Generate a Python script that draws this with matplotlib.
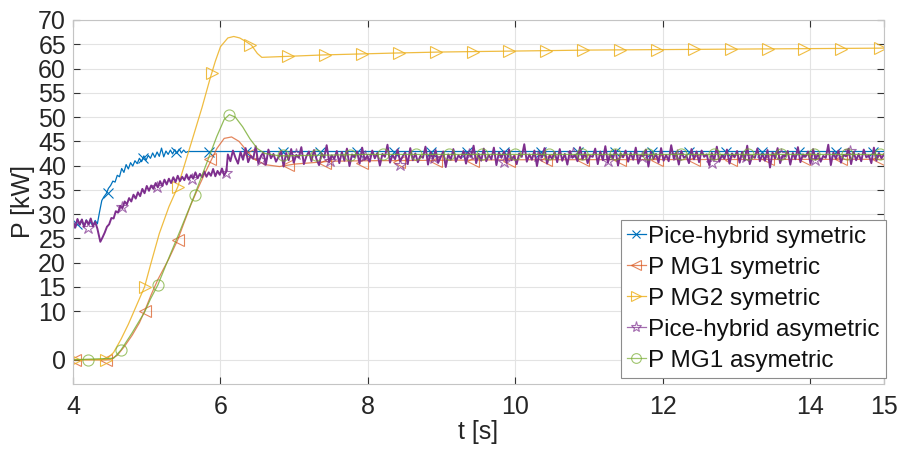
import numpy as np
import matplotlib
matplotlib.use('Agg')
import matplotlib.pyplot as plt
from matplotlib.lines import Line2D

plt.rcParams['font.family'] = ['Liberation Sans', 'DejaVu Sans']

#---------------------------------- data ----------------------------------
# Pice-hybrid symetric (blue): noisy start, rise, then flat
p_blue_start = [28.4, 27.6, 28.9, 27.8, 28.6, 27.5, 28.8, 27.9, 28.3, 27.6, 28.7, 28.0]   # 4.00 .. 4.33
p_blue_rise = [30.5, 32.8, 33.6, 34.2, 35.3, 35.9, 36.8, 36.6, 38.0, 37.7, 39.4, 38.6, 40.2,
               39.3, 40.6, 39.9, 41.0, 40.4, 41.5, 40.8, 42.0, 41.1, 42.1, 41.5, 42.6, 41.7,
               42.8, 41.9, 43.6, 41.8, 43.0, 42.3, 43.2, 42.4, 43.3, 42.5, 43.4, 42.6, 43.2,
               42.7, 42.9]                                                                  # 4.36 .. 5.56
p_blue_end = 42.9                                                                           # at 15 s
tm_blue = [4.05, 4.48, 4.95, 5.40, 5.85, 6.35, 6.85, 7.35, 7.85, 8.35, 8.85, 9.35, 9.85,
           10.35, 10.85, 11.35, 11.85, 12.35, 12.85, 13.35, 13.85, 14.35, 14.85]
pm_blue = [28.0, 34.4, 41.5, 42.7, 42.9, 42.9, 42.9, 42.9, 42.9, 42.9, 42.9, 42.9, 42.9,
           42.9, 42.9, 42.9, 42.9, 42.9, 42.9, 42.9, 42.9, 42.9, 42.9]

# P MG1 symetric (orange)
t_or = [4.0, 4.5, 4.6, 4.7, 4.8, 4.9, 4.97, 5.06, 5.15, 5.3, 5.42, 5.5, 5.6, 5.7, 5.8, 5.88,
        5.95, 6.05, 6.15, 6.25, 6.35, 6.45, 6.6, 6.8, 7.0, 7.5, 8.0, 10.0, 15.0]
p_or = [0.0, 0.0, 0.9, 2.8, 5.0, 7.6, 10.0, 13.4, 16.5, 20.8, 24.7, 28.0, 32.0, 35.5, 38.8,
        41.3, 43.5, 45.6, 45.9, 45.0, 43.2, 41.5, 40.2, 39.8, 40.3, 40.9, 41.0, 41.2, 41.3]
tm_or = [4.03, 4.45, 4.97, 5.42, 5.86, 6.40, 6.92, 7.42, 7.92, 8.42, 8.92, 9.42, 9.92,
         10.42, 10.92, 11.42, 11.92, 12.42, 12.92, 13.42, 13.92, 14.42, 14.92]
pm_or = [0.0, 0.0, 10.0, 24.7, 41.3, 42.3, 40.1, 40.5, 40.6, 40.8, 40.9, 41.0, 41.0,
         41.1, 41.1, 41.2, 41.2, 41.2, 41.2, 41.3, 41.3, 41.3, 41.3]

# P MG2 symetric (yellow)
t_ye = [4.0, 4.45, 4.55, 4.65, 4.75, 4.85, 4.97, 5.05, 5.17, 5.3, 5.42, 5.6, 5.75, 5.86,
        5.93, 6.0, 6.1, 6.18, 6.26, 6.34, 6.42, 6.5, 6.56, 6.9, 7.4, 7.9, 8.4, 9.0, 10.0,
        11.0, 12.0, 13.0, 14.0, 15.0]
p_ye = [0.0, 0.0, 1.5, 4.2, 7.3, 10.8, 15.0, 19.5, 26.0, 31.5, 35.6, 44.5, 52.0, 58.0,
        61.5, 64.5, 66.3, 66.6, 66.3, 65.6, 64.8, 63.1, 62.3, 62.5, 62.8, 63.0, 63.2, 63.4,
        63.6, 63.8, 63.9, 64.0, 64.1, 64.2]
tm_ye = [4.03, 4.45, 4.97, 5.42, 5.88, 6.40, 6.92, 7.42, 7.92, 8.42, 8.92, 9.42, 9.92,
         10.42, 10.92, 11.42, 11.92, 12.42, 12.92, 13.42, 13.92, 14.42, 14.95]
pm_ye = [0.0, 0.0, 15.0, 35.6, 59.0, 64.9, 62.5, 62.8, 63.0, 63.2, 63.3, 63.4, 63.6,
         63.7, 63.8, 63.8, 63.9, 64.0, 64.0, 64.0, 64.1, 64.1, 64.2]

# Pice-hybrid asymetric (purple)
p_pu_start = [28.5, 27.2, 29.0, 27.8, 28.9, 27.4, 28.7, 27.9, 29.1, 27.5, 28.4, 27.0]   # 4.00 .. 4.33
p_pu_dip = 24.3                                                                       # 4.37
p_pu_rise = [25.2, 26.2, 27.4, 27.9, 29.2, 29.1, 30.6, 30.3, 31.7, 31.2, 32.6, 32.0, 33.3,
             32.6, 34.0, 33.2, 34.5, 33.7, 35.2, 34.3, 35.8, 34.8, 35.9, 35.2, 36.4, 35.5,
             36.8, 35.8, 37.1, 36.1, 37.3, 36.4, 37.6, 36.6, 37.9, 36.8, 37.7, 37.0, 38.2,
             37.1, 38.0, 37.3, 38.6, 37.4, 38.3, 37.6, 38.8, 37.7, 38.6, 37.9, 39.3, 37.8,
             38.9, 38.1, 39.4, 38.0, 38.8]                                             # 4.40 .. 6.08
p_pu_noise = [42.3, 40.9, 43.1, 41.6, 40.4, 42.8, 41.2, 43.6, 40.7, 42.0, 41.4, 44.0, 40.5,
              41.9, 42.7, 40.2, 43.3, 41.5, 42.4, 40.8, 41.8, 43.0, 39.8, 42.6, 41.1, 43.4,
              40.6, 42.2, 41.7, 43.8, 40.3, 41.9, 42.9, 40.9, 43.2, 41.3, 40.1, 42.5, 41.6,
              44.2, 40.7, 42.1, 41.4, 43.0, 40.5, 42.8, 41.0, 43.5, 39.9, 42.3, 41.7, 42.9,
              40.4, 43.7, 41.2, 42.0, 40.8, 43.1, 41.5, 42.6, 40.0, 42.4, 41.8, 44.3, 40.6,
              42.2, 41.3, 43.3, 40.9, 41.9, 42.7, 40.3, 43.6, 41.1, 42.5, 40.7, 42.0, 41.6,
              43.9, 40.2, 42.8, 41.4, 43.2, 40.6, 41.7, 42.9, 39.7, 42.3, 41.2, 43.4, 40.8,
              42.1, 41.5, 43.0, 40.4, 42.6, 41.9, 44.1, 40.5, 42.4, 41.0, 43.5, 40.9, 42.2,
              41.3, 43.7, 40.1, 42.7, 41.6, 42.9, 40.6, 43.3, 41.1, 42.0, 40.3, 42.5, 41.8,
              44.4, 40.8, 42.3, 41.2, 43.1, 39.9, 42.6, 41.7, 43.6, 40.4, 42.1, 41.4, 42.8,
              40.7, 43.4, 41.0, 42.4, 40.2, 43.0, 41.6, 42.2, 40.9, 43.8, 41.3, 42.7, 40.5,
              42.0, 41.8, 43.5, 40.3, 42.9, 41.1, 44.0, 40.6, 42.3, 41.5, 43.2, 40.0, 42.5,
              41.7, 43.1, 40.8, 42.6, 41.2, 43.7, 40.4, 42.1, 41.9, 43.3, 39.8, 42.8, 41.4,
              42.4, 40.6, 43.6, 41.0, 42.2, 40.9, 44.2, 41.5, 42.7, 40.2, 43.0, 41.6, 42.0,
              40.5, 43.4, 41.3, 42.9, 40.7, 43.1, 41.8, 42.3, 40.1, 42.6, 41.2, 43.9, 40.8,
              42.2, 41.4, 43.3, 40.4, 42.5, 41.7, 43.0, 40.6, 42.8, 41.1, 44.1, 40.3, 42.0,
              41.6, 43.5, 40.9, 42.4, 41.0, 43.2, 39.6, 42.7, 41.5, 43.6, 40.5, 42.1, 41.9,
              43.0, 40.2, 42.6, 41.3, 43.8, 40.7, 42.3, 41.8, 42.9, 40.4, 43.4, 41.2, 42.5,
              40.8, 42.0, 41.6, 44.3, 40.1, 42.7, 41.4, 43.1, 40.6, 42.2, 41.9, 43.5, 40.3,
              42.8, 41.1, 42.4, 40.9, 43.3, 41.7, 42.1, 40.5, 43.7, 41.0, 42.6, 41.5, 42.3]  # 6.10 .. 15
tm_pu = [4.20, 4.67, 5.14, 5.61, 6.08, 6.55, 7.02, 7.49, 7.96, 8.43, 8.90, 9.37, 9.84,
         10.31, 10.78, 11.25, 11.72, 12.19, 12.66, 13.13, 13.60, 14.07, 14.54]
pm_pu = [27.2, 31.5, 35.5, 37.2, 38.4, 41.2, 42.4, 40.9, 42.0, 40.1, 41.6, 42.3, 40.8,
         41.9, 42.5, 41.0, 41.8, 42.2, 40.6, 41.7, 42.4, 41.1, 43.0]

# P MG1 asymetric (green)
t_gr = [4.0, 4.55, 4.65, 4.8, 4.97, 5.05, 5.15, 5.3, 5.45, 5.65, 5.8, 5.95, 6.05, 6.12,
        6.2, 6.3, 6.4, 6.5, 6.6, 6.8, 8.0, 15.0]
p_gr = [0.0, 0.3, 2.0, 5.5, 9.8, 12.5, 15.4, 21.0, 26.5, 34.0, 40.0, 46.0, 49.5, 50.5,
        50.0, 48.0, 45.5, 43.5, 42.5, 42.0, 42.3, 42.3]
tm_gr = [4.20, 4.65, 5.15, 5.65, 6.12, 6.85, 7.30, 7.75, 8.20, 8.65, 9.10, 9.55, 10.00,
         10.45, 10.90, 11.35, 11.80, 12.25, 12.70, 13.15, 13.60, 14.05, 14.50, 14.95]
pm_gr = [0.0, 2.0, 15.4, 34.0, 50.4, 42.1, 42.2, 42.2, 42.3, 42.3, 42.3, 42.3, 42.3,
         42.3, 42.3, 42.3, 42.3, 42.3, 42.3, 42.3, 42.3, 42.3, 42.3, 42.3]

labels = ['Pice-hybrid symetric', 'P MG1 symetric', 'P MG2 symetric',
          'Pice-hybrid asymetric', 'P MG1 asymetric']
x_ticks = [4, 6, 8, 10, 12, 14, 15]
y_ticks = [0, 10, 15, 20, 25, 30, 35, 40, 45, 50, 55, 60, 65, 70]

# sample times of the logged signals
t_blue = np.concatenate([np.linspace(4.0, 4.33, len(p_blue_start)),
                         np.linspace(4.36, 5.56, len(p_blue_rise)), [15.0]])
p_blue = p_blue_start + p_blue_rise + [p_blue_end]
t_pu = np.concatenate([np.linspace(4.0, 4.33, len(p_pu_start)), [4.37],
                       np.linspace(4.40, 6.08, len(p_pu_rise)),
                       np.linspace(6.10, 15.0, len(p_pu_noise))])
p_pu = p_pu_start + [p_pu_dip] + p_pu_rise + p_pu_noise

#---------------------------------- figure ----------------------------------
c_blue = '#0072BD'
c_or = '#D95319'
c_ye = '#EDB120'
c_pu = '#7E2F8E'
c_gr = '#77AC30'

fig = plt.figure(figsize=(9.04, 4.54), dpi=100)
ax = fig.add_axes([0.0808, 0.1542, 0.8971, 0.8018])

lw = 0.9
ms = 8
mew = 0.8

ax.plot(t_blue, p_blue, color=c_blue, lw=lw)
ax.plot(tm_blue, pm_blue, ls='none', marker='x', ms=ms - 1, mew=mew, color=c_blue)

ax.plot(t_or, p_or, color=c_or, lw=lw, alpha=0.7)
ax.plot(tm_or, pm_or, ls='none', marker='<', ms=ms, mew=mew, mfc='none', mec=c_or, alpha=0.7)

ax.plot(t_ye, p_ye, color=c_ye, lw=lw, alpha=0.85)
ax.plot(tm_ye, pm_ye, ls='none', marker='>', ms=ms, mew=mew, mfc='none', mec=c_ye, alpha=0.85)

ax.plot(t_pu, p_pu, color=c_pu, lw=1.4)
ax.plot(tm_pu, pm_pu, ls='none', marker='*', ms=ms + 1, mew=mew, mfc='none', mec=c_pu, alpha=0.7)

ax.plot(t_gr, p_gr, color=c_gr, lw=lw, alpha=0.8)
ax.plot(tm_gr, pm_gr, ls='none', marker='o', ms=ms, mew=mew, mfc='none', mec=c_gr, alpha=0.7)

ax.set_xlim(4, 15)
ax.set_ylim(-5, 70)
ax.set_xticks(x_ticks)
ax.set_yticks(y_ticks)
ax.grid(True, color='#e3e3e3', lw=0.8)
ax.set_axisbelow(True)
for s in ax.spines.values():
    s.set_color('#c4c4c4')
    s.set_linewidth(0.8)
ax.tick_params(direction='in', length=5, width=0.8, color='#333333',
               labelsize=18, labelcolor='#262626', top=True, right=True)
ax.tick_params(axis='x', pad=8)
ax.tick_params(axis='y', pad=5)

ax.set_xlabel('t [s]', fontsize=18, color='#262626', labelpad=1)
ax.set_ylabel('P [kW]', fontsize=18, color='#262626', labelpad=2)

handles = [
    Line2D([], [], color=c_blue, lw=lw, marker='x', ms=ms - 2, mew=mew),
    Line2D([], [], color=c_or, lw=lw, marker='<', ms=ms - 1, mew=mew, mfc='none', alpha=0.7),
    Line2D([], [], color=c_ye, lw=lw, marker='>', ms=ms - 1, mew=mew, mfc='none', alpha=0.85),
    Line2D([], [], color=c_pu, lw=lw, marker='*', ms=ms, mew=mew, mfc='none', alpha=0.7),
    Line2D([], [], color=c_gr, lw=lw, marker='o', ms=ms - 1, mew=mew, mfc='none', alpha=0.7),
]
leg = ax.legend(handles, labels, loc='lower right', bbox_to_anchor=(1.0025, 0.0165),
                borderaxespad=0, fontsize=17.5, fancybox=False, framealpha=1,
                edgecolor='#8c8c8c', handlelength=0.75, handletextpad=0.12,
                labelspacing=0.37, borderpad=0.25)
leg.get_frame().set_linewidth(0.8)
for txt in leg.get_texts():
    txt.set_color('#111111')

plt.savefig('out.png', dpi=100)
